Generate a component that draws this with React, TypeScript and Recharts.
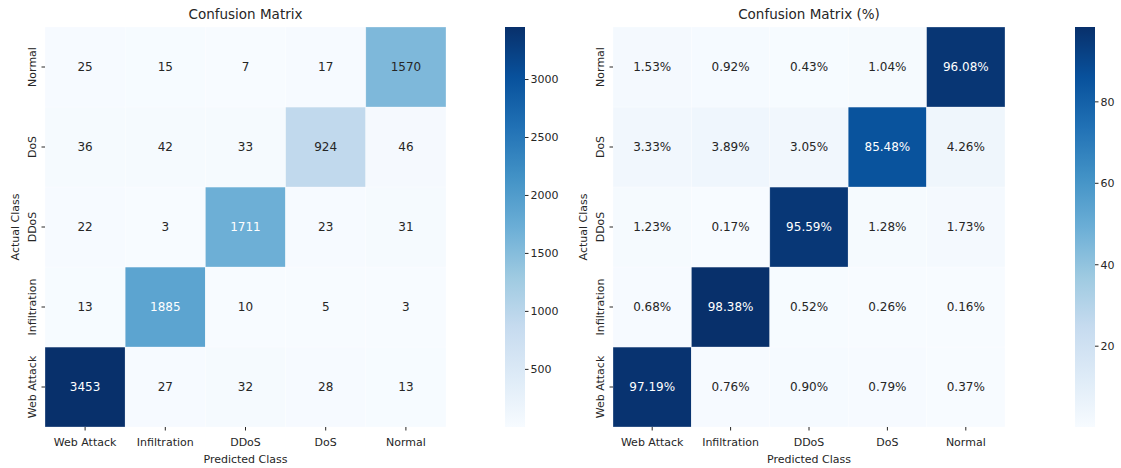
import {
  ScatterChart,
  Scatter,
  BarChart,
  Bar,
  XAxis,
  YAxis,
} from 'recharts';

// Class order used for both axes (columns left-to-right, rows bottom-to-top)
const CLASSES = ['Web Attack', 'Infiltration', 'DDoS', 'DoS', 'Normal'];

// Counts per actual class, predicted in CLASSES order
const countWebAttack = [3453, 27, 32, 28, 13];
const countInfiltration = [13, 1885, 10, 5, 3];
const countDDoS = [22, 3, 1711, 23, 31];
const countDoS = [36, 42, 33, 924, 46];
const countNormal = [25, 15, 7, 17, 1570];

// Row-normalised percentages
const pctWebAttack = [97.19, 0.76, 0.9, 0.79, 0.37];
const pctInfiltration = [0.68, 98.38, 0.52, 0.26, 0.16];
const pctDDoS = [1.23, 0.17, 95.59, 1.28, 1.73];
const pctDoS = [3.33, 3.89, 3.05, 85.48, 4.26];
const pctNormal = [1.53, 0.92, 0.43, 1.04, 96.08];

const countTicks = [500, 1000, 1500, 2000, 2500, 3000];
const pctTicks = [20, 40, 60, 80];

const countRows = [countWebAttack, countInfiltration, countDDoS, countDoS, countNormal];
const pctRows = [pctWebAttack, pctInfiltration, pctDDoS, pctDoS, pctNormal];

// matplotlib "Blues"
const BLUES = [
  '#f7fbff', '#deebf7', '#c6dbef', '#9ecae1', '#6baed6',
  '#4292c6', '#2171b5', '#08519c', '#08306b',
];

const FONT = '"DejaVu Sans", sans-serif';
const INK = '#262626';
const TOP = 27;
const BOTTOM = 41;
const HEIGHT = 468;

const hexToRgb = (h: string) => [1, 3, 5].map((i) => parseInt(h.slice(i, i + 2), 16));

const blues = (t: number) => {
  const c = Math.min(1, Math.max(0, t)) * (BLUES.length - 1);
  const i = Math.min(BLUES.length - 2, Math.floor(c));
  const f = c - i;
  const a = hexToRgb(BLUES[i]);
  const b = hexToRgb(BLUES[i + 1]);
  return a.map((v, k) => Math.round(v + (b[k] - v) * f));
};

const luminance = (rgb: number[]) => {
  const lin = rgb.map((v) => {
    const s = v / 255;
    return s <= 0.03928 ? s / 12.92 : Math.pow((s + 0.055) / 1.055, 2.4);
  });
  return 0.2126 * lin[0] + 0.7152 * lin[1] + 0.0722 * lin[2];
};

const flatten = (rows: number[][]) =>
  rows.flatMap((row, r) => row.map((value, c) => ({ col: c, row: r, value })));

const RowTick = (props: any) => {
  const { x, y, payload } = props;
  const px = x - 3.5;
  return (
    <text
      x={px}
      y={y}
      transform={`rotate(-90, ${px}, ${y})`}
      textAnchor="middle"
      fill={INK}
      fontSize={11}
      fontFamily={FONT}
    >
      {CLASSES[payload.value]}
    </text>
  );
};

interface HeatmapProps {
  rows: number[][];
  title: string;
  left: number;
  width: number;
  axisWidth: number;
  plotWidth: number;
  format: (v: number) => string;
}

const Heatmap = (props: HeatmapProps) => {
  const { rows, title, left, width, axisWidth, plotWidth, format } = props;
  const cells = flatten(rows);
  const values = cells.map((d) => d.value);
  const min = Math.min(...values);
  const max = Math.max(...values);
  const cellW = plotWidth / CLASSES.length;
  const cellH = (HEIGHT - TOP - BOTTOM) / CLASSES.length;

  const renderCell = (p: any) => {
    const { cx, cy, payload } = p;
    const rgb = blues((payload.value - min) / (max - min));
    const textColor = luminance(rgb) > 0.408 ? INK : '#ffffff';
    return (
      <g>
        <rect
          x={cx - cellW / 2}
          y={cy - cellH / 2}
          width={cellW}
          height={cellH}
          fill={`rgb(${rgb.join(',')})`}
          stroke="#ffffff"
          strokeOpacity={0.5}
          strokeWidth={0.6}
        />
        <text
          x={cx}
          y={cy}
          textAnchor="middle"
          dominantBaseline="central"
          fill={textColor}
          fontSize={12}
          fontFamily={FONT}
        >
          {format(payload.value)}
        </text>
      </g>
    );
  };

  const renderYLabel = (p: any) => {
    const vb = p.viewBox || { x: 0, y: TOP, width: axisWidth, height: HEIGHT - TOP - BOTTOM };
    const x = vb.x + vb.width - 30;
    const y = vb.y + vb.height / 2;
    return (
      <text
        x={x}
        y={y}
        transform={`rotate(-90, ${x}, ${y})`}
        textAnchor="middle"
        dominantBaseline="central"
        fill={INK}
        fontSize={11}
        fontFamily={FONT}
      >
        Actual Class
      </text>
    );
  };

  return (
    <div style={{ position: 'absolute', left, top: 0, width, height: HEIGHT }}>
      <div
        style={{
          position: 'absolute',
          left: axisWidth,
          width: plotWidth,
          top: 6,
          textAlign: 'center',
          fontFamily: FONT,
          fontSize: 13.5,
          color: INK,
        }}
      >
        {title}
      </div>
      <ScatterChart
        width={width}
        height={HEIGHT}
        margin={{ top: TOP, right: width - axisWidth - plotWidth, bottom: 0, left: 0 }}
      >
        <XAxis
          type="number"
          dataKey="col"
          domain={[-0.5, CLASSES.length - 0.5]}
          ticks={CLASSES.map((_, i) => i)}
          interval={0}
          allowDataOverflow
          axisLine={false}
          tickSize={3.5}
          tickMargin={8}
          height={BOTTOM}
          tickLine={{ stroke: INK }}
          tick={{ fill: INK, fontSize: 11, fontFamily: FONT }}
          tickFormatter={(v: number) => CLASSES[v]}
          label={{
            value: 'Predicted Class',
            position: 'insideBottom',
            offset: 5,
            fill: INK,
            fontSize: 11,
            fontFamily: FONT,
          }}
        />
        <YAxis
          type="number"
          dataKey="row"
          domain={[-0.5, CLASSES.length - 0.5]}
          ticks={CLASSES.map((_, i) => i)}
          interval={0}
          allowDataOverflow
          axisLine={false}
          tickSize={3.5}
          width={axisWidth}
          tickLine={{ stroke: INK }}
          tick={RowTick}
          label={{ content: renderYLabel }}
        />
        <Scatter data={cells} shape={renderCell} isAnimationActive={false} />
      </ScatterChart>
    </div>
  );
};

interface ColorbarProps {
  rows: number[][];
  ticks: number[];
  gradientId: string;
  left: number;
  axisWidth: number;
}

const Colorbar = (props: ColorbarProps) => {
  const { rows, ticks, gradientId, left, axisWidth } = props;
  const values = rows.flat();
  const min = Math.min(...values);
  const max = Math.max(...values);
  const barData = [{ name: 'scale', span: [min, max] }];

  return (
    <div style={{ position: 'absolute', left, top: 0 }}>
      <BarChart
        width={20 + axisWidth}
        height={HEIGHT}
        data={barData}
        margin={{ top: TOP, right: 0, bottom: BOTTOM, left: 0 }}
        barCategoryGap={0}
      >
        <XAxis dataKey="name" hide />
        <YAxis
          orientation="right"
          type="number"
          domain={[min, max]}
          ticks={ticks}
          allowDataOverflow
          axisLine={false}
          tickSize={3.5}
          tickMargin={2}
          width={axisWidth}
          tickLine={{ stroke: INK }}
          tick={{ fill: INK, fontSize: 11, fontFamily: FONT }}
        />
        <Bar dataKey="span" fill={`url(#${gradientId})`} isAnimationActive={false} />
      </BarChart>
    </div>
  );
};

const App = () => {
  return (
    <div style={{ position: 'absolute', left: 0, top: 0, width: 1121, height: HEIGHT, background: '#fff' }}>
      <svg width={0} height={0} style={{ position: 'absolute' }}>
        <defs>
          {['cbCounts', 'cbPct'].map((id) => (
            <linearGradient key={id} id={id} x1="0" y1="1" x2="0" y2="0">
              {BLUES.map((c, i) => (
                <stop key={c} offset={i / (BLUES.length - 1)} stopColor={c} />
              ))}
            </linearGradient>
          ))}
        </defs>
      </svg>
      <Heatmap
        rows={countRows}
        title="Confusion Matrix"
        left={0}
        width={480}
        axisWidth={45}
        plotWidth={401}
        format={(v) => String(v)}
      />
      <Colorbar rows={countRows} ticks={countTicks} gradientId="cbCounts" left={505} axisWidth={40} />
      <Heatmap
        rows={pctRows}
        title="Confusion Matrix (%)"
        left={560}
        width={480}
        axisWidth={53}
        plotWidth={392}
        format={(v) => `${v.toFixed(2)}%`}
      />
      <Colorbar rows={pctRows} ticks={pctTicks} gradientId="cbPct" left={1075} axisWidth={26} />
    </div>
  );
};

export default App;
